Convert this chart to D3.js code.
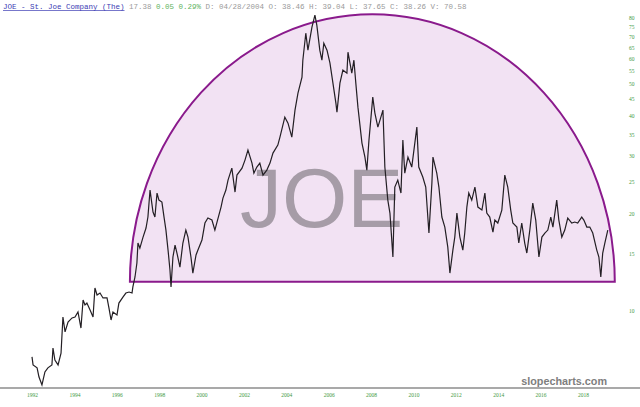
<!DOCTYPE html>
<html><head><meta charset="utf-8">
<script src="https://cdn.jsdelivr.net/npm/d3@7"></script>
<style>body{margin:0;background:#fff}svg{display:block}</style></head>
<body>
<svg id="c" width="640" height="407"></svg>
<script>
const ticker = "JOE";
const titleText = "JOE - St. Joe Company (The)";
const lastText = "17.38";
const changeText = "0.05 0.29%";
const ohlcText = "D: 04/28/2004 O: 38.46 H: 39.04 L: 37.65 C: 38.26 V: 70.58";
const years = [
1992.00,1992.05,1992.24,1992.33,1992.47,1992.61,1992.75,1992.94,1992.99,1993.08,
1993.23,1993.37,1993.46,1993.56,1993.70,1993.89,1994.03,1994.17,1994.31,1994.41,
1994.50,1994.59,1994.74,1994.88,1994.97,1995.07,1995.21,1995.35,1995.54,1995.63,
1995.73,1995.82,1996.01,1996.10,1996.29,1996.43,1996.58,1996.72,1996.76,1996.86,
1996.95,1997.00,1997.09,1997.24,1997.38,1997.47,1997.57,1997.71,1997.80,1997.90,
1997.99,1998.13,1998.23,1998.32,1998.42,1998.51,1998.56,1998.65,1998.75,1998.84,
1998.98,1999.12,1999.26,1999.36,1999.50,1999.59,1999.74,1999.83,2000.02,2000.16,
2000.30,2000.49,2000.63,2000.73,2000.92,2001.01,2001.15,2001.25,2001.43,2001.58,
2001.67,2001.91,2002.05,2002.19,2002.38,2002.47,2002.61,2002.75,2002.90,2003.08,
2003.23,2003.37,2003.60,2003.70,2003.93,2004.08,2004.26,2004.41,2004.55,2004.74,
2004.78,2004.92,2005.02,2005.21,2005.35,2005.44,2005.58,2005.68,2005.77,2005.92,
2006.06,2006.20,2006.34,2006.39,2006.53,2006.67,2006.86,2006.91,2007.09,2007.19,
2007.28,2007.38,2007.57,2007.71,2007.80,2007.90,2008.08,2008.18,2008.32,2008.42,
2008.56,2008.65,2008.79,2008.89,2009.03,2009.12,2009.26,2009.41,2009.50,2009.59,
2009.74,2009.92,2010.16,2010.25,2010.44,2010.58,2010.73,2010.87,2010.92,2011.10,
2011.20,2011.34,2011.48,2011.62,2011.72,2011.86,2011.95,2012.05,2012.19,2012.33,
2012.42,2012.52,2012.61,2012.75,2012.90,2013.04,2013.23,2013.37,2013.46,2013.60,
2013.75,2013.84,2013.98,2014.17,2014.31,2014.45,2014.59,2014.69,2014.88,2014.97,
2015.11,2015.25,2015.35,2015.49,2015.63,2015.77,2015.92,2016.06,2016.20,2016.34,
2016.48,2016.58,2016.76,2016.86,2017.00,2017.14,2017.28,2017.47,2017.61,2017.75,
2017.94,2018.04,2018.18,2018.32,2018.46,2018.65,2018.75,2018.84,2018.93,2019.03,
2019.17];
const prices = [
7.22,6.82,6.68,6.26,5.92,6.49,6.68,6.82,7.69,7.06,
6.82,7.42,9.58,8.62,9.25,9.52,9.58,9.93,8.86,10.81,
10.44,10.58,10.07,9.58,11.77,11.20,11.36,10.97,10.97,10.22,
9.38,9.93,9.72,10.58,11.04,11.36,11.44,11.36,11.86,12.73,
14.06,16.20,15.63,16.90,18.02,19.48,23.59,20.18,19.48,23.09,
21.97,21.66,19.48,17.76,15.41,13.38,11.86,14.67,15.97,15.09,
13.66,16.20,17.76,16.90,14.67,13.09,14.88,15.41,16.55,18.67,
19.34,19.07,17.76,18.80,20.91,22.29,23.59,25.32,27.57,23.26,
26.24,27.57,29.18,31.32,28.57,26.61,27.77,28.57,26.24,27.18,
28.57,30.67,32.46,34.35,39.58,37.94,34.35,41.60,46.93,52.57,
59.30,71.82,63.67,74.95,81.61,76.02,63.67,59.30,66.90,63.67,
58.06,50.38,43.72,41.02,50.38,55.25,54.08,62.77,54.08,59.30,
50.38,42.49,32.92,29.81,27.18,33.63,45.62,40.73,36.88,38.75,
41.60,27.77,21.97,20.04,14.67,24.10,25.32,23.09,33.63,26.61,
29.81,27.77,36.88,27.77,25.87,24.10,17.39,24.79,29.81,26.61,
24.10,19.48,18.14,15.74,13.09,15.41,16.90,20.04,16.90,15.41,
17.39,20.91,23.09,21.97,24.10,20.91,20.47,23.09,20.04,19.48,
17.51,19.07,18.67,20.47,26.24,24.10,20.47,18.67,18.14,16.20,
18.67,16.20,15.09,17.76,21.51,19.07,14.67,16.90,17.39,17.76,
19.48,18.14,21.97,19.07,16.90,17.76,19.34,18.67,18.80,18.67,
19.48,19.07,18.14,18.14,17.39,15.41,14.67,12.73,15.09,16.20,
17.76];
const yTicks = [10,15,20,25,30,35,40,45,50,55,60,65,70,75,80];
const xTicks = [1992,1994,1996,1998,2000,2002,2004,2006,2008,2010,2012,2014,2016,2018];
const arcStartYear = 1996.62, arcEndYear = 2019.5, arcBasePrice = 12.3, arcTopPrice = 82.2;

const svg = d3.select("#c");
const x = d3.scaleLinear().domain([1992, 2018]).range([32, 583]);
const y = d3.scaleLog().domain([10, 80]).range([311, 18]);

// semicircle
const x1 = x(arcStartYear), x2 = x(arcEndYear), yb = y(arcBasePrice), yt = y(arcTopPrice);
const rx = (x2 - x1) / 2, ry = yb - yt;
svg.append("path")
  .attr("d", `M${x1},${yb} A${rx},${ry} 0 0 1 ${x2},${yb} Z`)
  .attr("fill", "#f2e2f3").attr("stroke", "#8a1a8c").attr("stroke-width", 2);

// watermark
svg.append("text").attr("x", 240).attr("y", 227)
  .attr("font-family", "Liberation Sans, Arial, sans-serif").attr("font-size", 84)
  .attr("fill", "#a69ca7").text(ticker);

// price line
const data = years.map((d, i) => ({t: d, p: prices[i]}));
svg.append("path").datum(data)
  .attr("d", d3.line().x(d => x(d.t)).y(d => y(d.p)))
  .attr("fill", "none").attr("stroke", "#231f24").attr("stroke-width", 1.2)
  .attr("stroke-linejoin", "miter");

// bottom axis line
svg.append("line").attr("x1", 0).attr("x2", 640).attr("y1", 388).attr("y2", 388)
  .attr("stroke", "#8c8c8c").attr("stroke-width", 1.5);

const xa = svg.append("g").attr("transform", "translate(0,391)")
  .call(d3.axisBottom(x).tickValues(xTicks).tickFormat(d3.format("d")).tickSize(0).tickPadding(2));
xa.select(".domain").remove();
xa.selectAll("text").attr("font-family", "Liberation Serif, serif").attr("font-size", 5.5).attr("fill", "#3f9a3f");

const ya = svg.append("g").attr("transform", "translate(628,0)")
  .call(d3.axisRight(y).tickValues(yTicks).tickFormat(d3.format("d")).tickSize(0).tickPadding(1));
ya.select(".domain").remove();
ya.selectAll("text").attr("font-family", "Liberation Serif, serif").attr("font-size", 5.5).attr("fill", "#3f9a3f");

// header
const hdr = svg.append("text").attr("x", 3).attr("y", 8.5)
  .attr("font-family", "Liberation Mono, monospace").attr("font-size", 7.5).attr("xml:space", "preserve");
hdr.append("tspan").attr("fill", "#3c3cb4").text(titleText);
hdr.append("tspan").attr("fill", "#9a9a9a").text(" " + lastText + " ");
hdr.append("tspan").attr("fill", "#5fb35f").text(changeText);
hdr.append("tspan").attr("fill", "#9a9a9a").text(" " + ohlcText);
svg.append("line").attr("x1", 3).attr("x2", 3 + titleText.length * 4.5).attr("y1", 10.5).attr("y2", 10.5)
  .attr("stroke", "#3c3cb4").attr("stroke-width", 0.7);

// brand
svg.append("text").attr("x", 607).attr("y", 385).attr("text-anchor", "end")
  .attr("font-family", "Liberation Sans, Arial, sans-serif").attr("font-weight", "bold")
  .attr("font-size", 10.8).attr("fill", "#7e7e7e").text("slopecharts.com");
</script>
</body></html>
